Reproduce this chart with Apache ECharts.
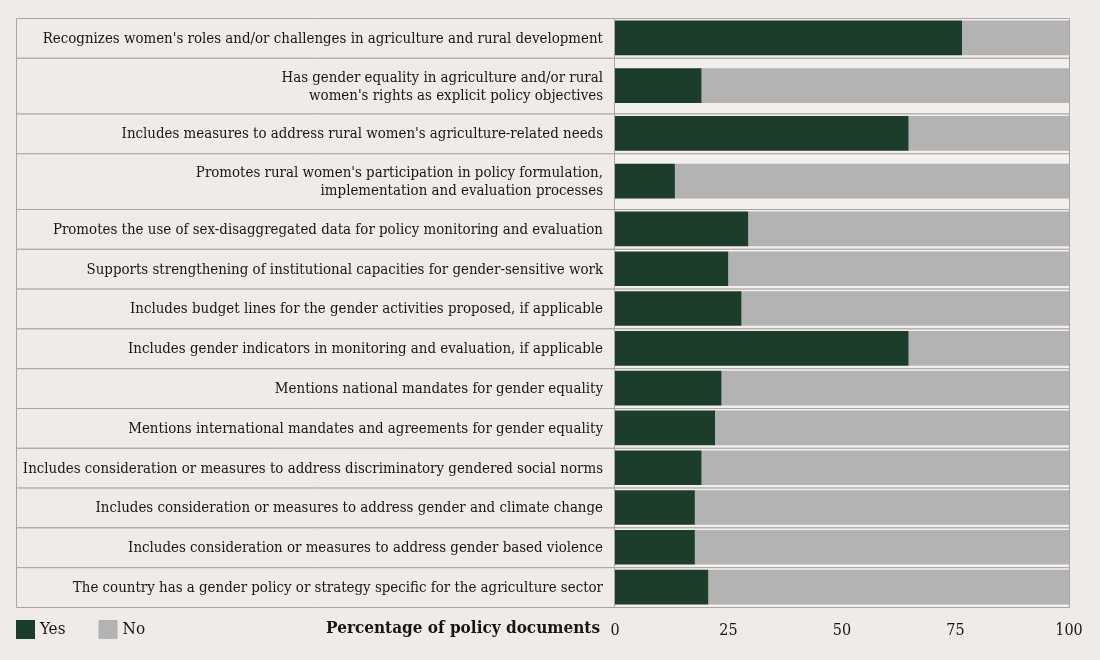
<!DOCTYPE html>
<html>
<head>
<meta charset="utf-8">
<script src="https://cdn.jsdelivr.net/npm/echarts@6/dist/echarts.min.js"></script>
<style>
html,body{margin:0;padding:0;background:#f0ebe8;}
#chart{width:1100px;height:660px;}
</style>
</head>
<body>
<div id="chart"></div>
<script>
// ---- data ----
const categories = [
  "Recognizes women's roles and/or challenges in agriculture and rural development",
  "Has gender equality in agriculture and/or rural\nwomen's rights as explicit policy objectives",
  "Includes measures to address rural women's agriculture-related needs",
  "Promotes rural women's participation in policy formulation,\nimplementation and evaluation processes",
  "Promotes the use of sex-disaggregated data for policy monitoring and evaluation",
  "Supports strengthening of institutional capacities for gender-sensitive work",
  "Includes budget lines for the gender activities proposed, if applicable",
  "Includes gender indicators in monitoring and evaluation, if applicable",
  "Mentions national mandates for gender equality",
  "Mentions international mandates and agreements for gender equality",
  "Includes consideration or measures to address discriminatory gendered social norms",
  "Includes consideration or measures to address gender and climate change",
  "Includes consideration or measures to address gender based violence",
  "The country has a gender policy or strategy specific for the agriculture sector"
];
const yesValues = [76.5, 19.1, 64.7, 13.2, 29.4, 25.0, 27.9, 64.7, 23.5, 22.1, 19.1, 17.6, 17.6, 20.6];
const noValues = yesValues.map(v => +(100 - v).toFixed(1));
const xTicks = [0, 25, 50, 75, 100];
const seriesNames = ['Yes', 'No'];
const xAxisTitle = 'Percentage of policy documents';

// ---- layout (row heights in row units: two-line labels get taller rows) ----
const rowUnits = categories.map(c => c.indexOf('\n') >= 0 ? 1.4 : 1);
const rowStart = [];
let acc = 0;
rowUnits.forEach(u => { rowStart.push(acc); acc += u; });
const totalUnits = acc;

const GREEN = '#1b3d2a';
const GREY = '#b3b3b3';
const BORDER = '#a9a5a2';
const BG = '#f0ebe8';
const FONT = "'DejaVu Serif Condensed', 'Liberation Serif', serif";

function rowPixels(api, i) {
  const top = api.coord([0, rowStart[i]])[1];
  const bot = api.coord([0, rowStart[i] + rowUnits[i]])[1];
  const unit = api.coord([0, 1])[1] - api.coord([0, 0])[1];
  return { top, bot, unit };
}

function renderYes(params, api) {
  const i = api.value(0);
  const v = api.value(1);
  const r = rowPixels(api, i);
  const mid = (r.top + r.bot) / 2;
  const bh = r.unit * 0.87;
  const x0 = api.coord([0, 0])[0];
  const x1 = api.coord([v, 0])[0];
  const xEnd = api.coord([100, 0])[0];
  const labelLeft = 16;
  return {
    type: 'group',
    children: [
      { type: 'rect', shape: { x: labelLeft + 0.5, y: r.top + 0.5, width: x0 - labelLeft - 1, height: r.bot - r.top },
        style: { fill: BG, stroke: BORDER, lineWidth: 1 } },
      { type: 'rect', shape: { x: x0 - 0.5, y: r.top + 0.5, width: xEnd - x0 + 1, height: r.bot - r.top },
        style: { fill: '#f3efec', stroke: BORDER, lineWidth: 1 } },
      { type: 'text', style: { text: categories[i], x: x0 - 12, y: mid + 1, align: 'right', verticalAlign: 'middle',
        fontSize: 14.9, lineHeight: 18, fontFamily: FONT, fill: '#161616' } },
      { type: 'rect', shape: { x: x0, y: mid - bh / 2, width: x1 - x0, height: bh },
        style: { fill: GREEN } }
    ]
  };
}

function renderNo(params, api) {
  const i = api.value(0);
  const v = api.value(1);
  const r = rowPixels(api, i);
  const mid = (r.top + r.bot) / 2;
  const bh = r.unit * 0.87;
  const x0 = api.coord([yesValues[i], 0])[0];
  const x1 = api.coord([yesValues[i] + v, 0])[0];
  return { type: 'rect', shape: { x: x0, y: mid - bh / 2, width: x1 - x0, height: bh }, style: { fill: GREY } };
}

const chart = echarts.init(document.getElementById('chart'), null, { renderer: 'canvas' });
chart.setOption({
  backgroundColor: BG,
  animation: false,
  grid: { left: 615, right: 31, top: 18, bottom: 53 },
  legend: {
    left: 11, top: 615, icon: 'rect', itemWidth: 19, itemHeight: 19, itemGap: 33,
    data: seriesNames,
    textStyle: { fontFamily: FONT, fontSize: 17, color: '#161616' }
  },
  graphic: [
    { type: 'text', right: 500, top: 620,
      style: { text: xAxisTitle, fontFamily: FONT, fontSize: 17, fontWeight: 'bold', fill: '#161616' } }
  ],
  xAxis: {
    type: 'value', min: 0, max: 100, interval: 25,
    axisLine: { show: false }, axisTick: { show: false }, splitLine: { show: false },
    axisLabel: { margin: 16, fontFamily: FONT, fontSize: 16, color: '#161616',
      formatter: v => xTicks.indexOf(v) >= 0 ? String(v) : '' }
  },
  yAxis: { type: 'value', min: 0, max: totalUnits, inverse: true, show: false },
  series: [
    { name: 'Yes', type: 'custom', itemStyle: { color: GREEN }, renderItem: renderYes,
      encode: { x: 1, y: 0 }, data: yesValues.map((v, i) => [i, v]) },
    { name: 'No', type: 'custom', itemStyle: { color: GREY }, renderItem: renderNo,
      encode: { x: 1, y: 0 }, data: noValues.map((v, i) => [i, v]) }
  ]
});
</script>
</body>
</html>
